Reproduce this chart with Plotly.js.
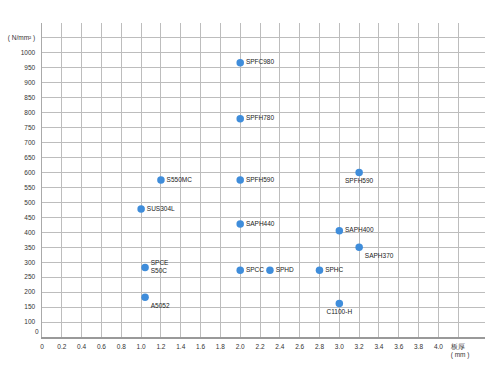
<!DOCTYPE html>
<html>
<head>
<meta charset="utf-8">
<script src="https://cdn.plot.ly/plotly-3.0.1.min.js"></script>
<style>html,body{margin:0;padding:0;background:#fff;}#chart{width:500px;height:375px;}</style>
</head>
<body>
<div id="chart"></div>
<script>
// Material data: thickness (mm) vs strength (N/mm²)
const materials = ["SPFC980","SPFH780","S550MC","SPFH590","SPFH590","SUS304L","SAPH440","SAPH400","SAPH370","SPCE<br>S50C","SPCC","SPHD","SPHC","A5052","C1100-H"];
const thickness = [2.0, 2.0, 1.2, 2.0, 3.2, 1.0, 2.0, 3.0, 3.2, 1.04, 2.0, 2.3, 2.8, 1.04, 3.0];
const strength  = [967, 780, 575, 575, 600, 478, 428, 405, 350, 282, 273, 273, 273, 183, 162];
const labelPos  = ["middle right","middle right","middle right","middle right","bottom center","middle right","middle right","middle right","bottom right","middle right","middle right","middle right","middle right","bottom right","bottom center"];

const xTickVals = [0,0.2,0.4,0.6,0.8,1.0,1.2,1.4,1.6,1.8,2.0,2.2,2.4,2.6,2.8,3.0,3.2,3.4,3.6,3.8,4.0,4.2];
const xTickText = ["0","0.2","0.4","0.6","0.8","1.0","1.2","1.4","1.6","1.8","2.0","2.2","2.4","2.6","2.8","3.0","3.2","3.4","3.6","3.8","4.0","板厚<br>  ( mm )"];
const yTickVals = [100,150,200,250,300,350,400,450,500,550,600,650,700,750,800,850,900,950,1000,1050];
const yTickText = ["100","150","200","250","300","350","400","450","500","550","600","650","700","750","800","850","900","950","1000","( N/mm² )"];

const trace = {
  x: thickness, y: strength, text: materials,
  type: "scatter", mode: "markers+text",
  textposition: labelPos,
  marker: {color: "#3f8ddb", size: 7.5},
  textfont: {family: "Liberation Sans, Arial, sans-serif", size: 6.5, color: "#222"},
  hoverinfo: "none", cliponaxis: false
};

const layout = {
  width: 500, height: 375,
  margin: {l: 42, r: 15, t: 23, b: 38},
  paper_bgcolor: "#fff", plot_bgcolor: "#fff",
  showlegend: false,
  font: {family: "Liberation Sans, Arial, sans-serif", size: 6.5, color: "#333"},
  xaxis: {
    range: [0, 4.47], tickmode: "array", tickvals: xTickVals, ticktext: xTickText,
    showgrid: true, gridcolor: "#bdbdbd", gridwidth: 1, zeroline: false,
    showline: true, linecolor: "#999", linewidth: 2, ticks: "", ticklabelstandoff: 2,
    tickangle: 0
  },
  yaxis: {
    range: [50, 1100], tickmode: "array", tickvals: yTickVals, ticktext: yTickText,
    showgrid: true, gridcolor: "#bdbdbd", gridwidth: 1, zeroline: false,
    showline: true, linecolor: "#aaa", linewidth: 1.5, ticks: "", ticklabelstandoff: 4
  },
  annotations: [
    {xref: "paper", yref: "paper", x: 0, y: 0, xanchor: "right", yanchor: "bottom",
     xshift: -1, yshift: 0, text: "0", showarrow: false,
     font: {size: 6.5, color: "#333"}}
  ]
};

Plotly.newPlot("chart", [trace], layout, {displayModeBar: false, staticPlot: true});
</script>
</body>
</html>
